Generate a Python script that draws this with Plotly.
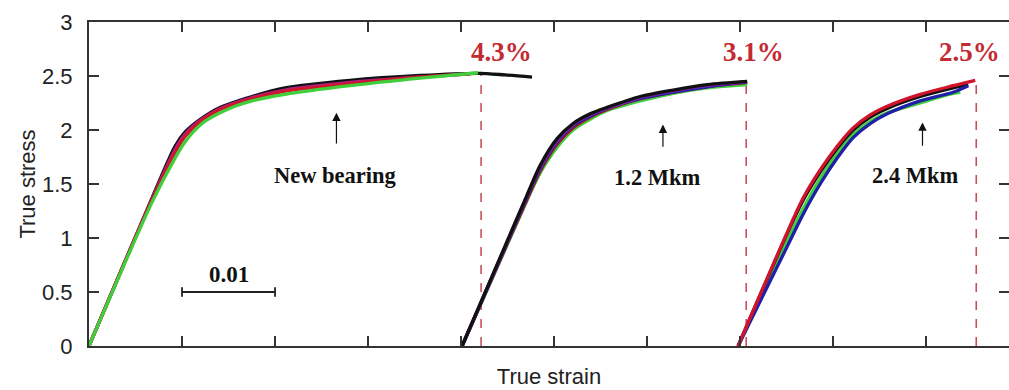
import plotly.graph_objects as go

# ---------------- data (strain, stress) ----------------
# Group 1: new bearing
g1_black_x = [0, 0.00677, 0.00925, 0.01032, 0.01215, 0.01387, 0.01753, 0.02108, 0.02806, 0.03559, 0.04183, 0.04473, 0.04763]
g1_black_y = [0, 1.37, 1.85, 1.98, 2.11, 2.20, 2.31, 2.39, 2.46, 2.505, 2.525, 2.51, 2.49]
g1_magenta_x = [0, 0.00677, 0.00925, 0.01032, 0.01215, 0.01387, 0.01753, 0.02108, 0.02806, 0.03559, 0.04097]
g1_magenta_y = [0, 1.36, 1.82, 1.96, 2.10, 2.19, 2.30, 2.37, 2.44, 2.49, 2.52]
g1_red_x = [0, 0.00677, 0.00925, 0.01032, 0.01215, 0.01387, 0.01753, 0.02108, 0.02806, 0.03559, 0.04097]
g1_red_y = [0, 1.35, 1.79, 1.94, 2.09, 2.18, 2.29, 2.36, 2.43, 2.49, 2.52]
g1_green_x = [0, 0.00677, 0.00925, 0.01032, 0.01215, 0.01387, 0.01570, 0.01753, 0.02108, 0.02806, 0.03559, 0.04183]
g1_green_y = [0, 1.33, 1.74, 1.89, 2.06, 2.15, 2.22, 2.27, 2.33, 2.41, 2.48, 2.53]

# Group 2: 1.2 Mkm
g2_x = [0.04011, 0.04495, 0.04710, 0.04849, 0.05032, 0.05204, 0.05387, 0.05570, 0.05925, 0.06280, 0.06645, 0.07075]
g2_black_y = [0, 0.97, 1.40, 1.67, 1.92, 2.06, 2.15, 2.21, 2.31, 2.37, 2.42, 2.45]
g2_purple_y = [0, 0.96, 1.39, 1.65, 1.90, 2.05, 2.14, 2.20, 2.30, 2.36, 2.41, 2.445]
g2_blue_y = [0, 0.955, 1.38, 1.64, 1.89, 2.04, 2.13, 2.20, 2.29, 2.35, 2.40, 2.445]
g2_red_y = [0, 0.945, 1.36, 1.62, 1.87, 2.02, 2.12, 2.19, 2.29, 2.35, 2.40, 2.44]
g2_green_y = [0, 0.935, 1.35, 1.60, 1.84, 2.00, 2.10, 2.18, 2.27, 2.34, 2.39, 2.42]

# Group 3: 2.4 Mkm
g3_x = [0.06978, 0.07505, 0.07677, 0.07860, 0.08043, 0.08215, 0.08398, 0.08581, 0.08935, 0.09290, 0.09452]
g3_red_y = [0, 1.05, 1.37, 1.63, 1.85, 2.02, 2.14, 2.22, 2.33, 2.41, 2.46]
g3_black_y = [0, 1.04, 1.35, 1.61, 1.83, 2.00, 2.12, 2.20, 2.31, 2.39, 2.42]
g3_green_y = [0, 0.97, 1.27, 1.55, 1.78, 1.96, 2.08, 2.16, 2.25, 2.32, 2.35]
g3_blue_y = [0, 0.92, 1.22, 1.50, 1.74, 1.93, 2.06, 2.15, 2.27, 2.35, 2.41]
g3_red_x = [0.06978, 0.07505, 0.07677, 0.07860, 0.08043, 0.08215, 0.08398, 0.08581, 0.08935, 0.09290, 0.09527]
g3_green_x = [0.06978, 0.07505, 0.07677, 0.07860, 0.08043, 0.08215, 0.08398, 0.08581, 0.08935, 0.09204, 0.09366]

# failure strain markers
fail_strain = [0.04215, 0.07065, 0.09538]
fail_stress = [2.54, 2.44, 2.46]
fail_labels = ["4.3%", "3.1%", "2.5%"]
fail_label_x = [0.0443, 0.0714, 0.0946]
fail_label_y = [2.72, 2.72, 2.72]

# condition labels + arrows
cond_labels = ["New bearing", "1.2 Mkm", "2.4 Mkm"]
cond_x = [0.0265, 0.0611, 0.0888]
cond_y = [1.58, 1.56, 1.58]
arrow_x = [0.0266, 0.0617, 0.0896]
arrow_head_y = [2.16, 2.05, 2.07]
arrow_tail_y = [1.86, 1.83, 1.84]

# scale bar
scale_x = [0.01, 0.02]
scale_y = [0.5, 0.5]
scale_label = "0.01"

y_ticks = [0, 0.5, 1, 1.5, 2, 2.5, 3]
y_tick_text = ["0", "0.5", "1", "1.5", "2", "2.5", "3"]

BLACK = "#111111"
GREEN = "#3fcf3a"
RED = "#d0142c"
MAGENTA = "#b0208a"
PURPLE = "#7a22b0"
BLUE = "#1f1fa8"
DARKRED = "#a81818"

fig = go.Figure()

def curve(x, y, color):
    fig.add_trace(go.Scatter(x=x, y=y, mode="lines",
                             line=dict(color=color, width=3.3, shape="spline", smoothing=0.8),
                             showlegend=False, hoverinfo="skip"))

# dashed failure lines (behind curves)
for xs, ys in zip(fail_strain, fail_stress):
    fig.add_trace(go.Scatter(x=[xs, xs], y=[0, ys], mode="lines",
                             line=dict(color="#c9505a", width=1.6, dash="dash"),
                             showlegend=False, hoverinfo="skip"))

# group 1
curve(g1_black_x, g1_black_y, BLACK)
curve(g1_magenta_x, g1_magenta_y, MAGENTA)
curve(g1_red_x, g1_red_y, RED)
curve(g1_green_x, g1_green_y, GREEN)
# group 2
curve(g2_x, g2_green_y, GREEN)
curve(g2_x, g2_red_y, DARKRED)
curve(g2_x, g2_blue_y, BLUE)
curve(g2_x, g2_purple_y, PURPLE)
curve(g2_x, g2_black_y, BLACK)
# group 3
curve(g3_green_x, g3_green_y, GREEN)
curve(g3_x, g3_black_y, BLACK)
curve(g3_x, g3_blue_y, BLUE)
curve(g3_red_x, g3_red_y, RED)

# scale bar
fig.add_trace(go.Scatter(x=scale_x, y=scale_y, mode="lines",
                         line=dict(color="#222222", width=1.8),
                         error_y=dict(type="constant", value=0.045, width=0, thickness=1.8, color="#222222"),
                         showlegend=False, hoverinfo="skip"))

annotations = []
for lab, lx, ly in zip(fail_labels, fail_label_x, fail_label_y):
    annotations.append(dict(x=lx, y=ly, xref="x", yref="y", text="<b>%s</b>" % lab, showarrow=False,
                            font=dict(family="Liberation Serif", size=27, color="#c42a32")))
for lab, lx, ly in zip(cond_labels, cond_x, cond_y):
    annotations.append(dict(x=lx, y=ly, xref="x", yref="y", text="<b>%s</b>" % lab, showarrow=False,
                            font=dict(family="Liberation Serif", size=22.5, color="#111111")))
for ax_, hy, ty in zip(arrow_x, arrow_head_y, arrow_tail_y):
    annotations.append(dict(x=ax_, y=hy, ax=ax_, ay=ty, xref="x", yref="y", axref="x", ayref="y",
                            text="", showarrow=True, arrowhead=2, arrowsize=1.4, arrowwidth=1.2,
                            arrowcolor="#111111"))
annotations.append(dict(x=sum(scale_x) / 2, y=scale_y[0] + 0.16, xref="x", yref="y",
                        text="<b>%s</b>" % scale_label, showarrow=False,
                        font=dict(family="Liberation Serif", size=23, color="#111111")))

fig.update_layout(
    width=1009, height=390,
    margin=dict(l=89, r=0, t=22, b=44),
    plot_bgcolor="white", paper_bgcolor="white",
    annotations=annotations,
    font=dict(family="Liberation Sans", size=22, color="#222222"),
)
fig.update_xaxes(range=[0, 0.0989], tick0=0, dtick=0.01, ticks="inside", ticklen=10, tickwidth=1.5,
                 tickcolor="#333333", showline=True, linecolor="#333333", linewidth=2, mirror="ticks",
                 showticklabels=False, showgrid=False, zeroline=False,
                 title=dict(text="True strain", font=dict(size=22, color="#222222"), standoff=22),
                 automargin=False)
fig.update_yaxes(range=[0, 3], tickvals=y_ticks, ticktext=y_tick_text, ticks="inside", ticklen=10,
                 tickwidth=1.5, tickcolor="#333333", showline=True, linecolor="#333333", linewidth=2,
                 mirror="ticks", showgrid=False, zeroline=False, ticklabelstandoff=10,
                 tickfont=dict(size=22, color="#222222"),
                 title=dict(text="True stress", font=dict(size=22, color="#222222"), standoff=0),
                 automargin=False)

fig.write_html("out.html")
